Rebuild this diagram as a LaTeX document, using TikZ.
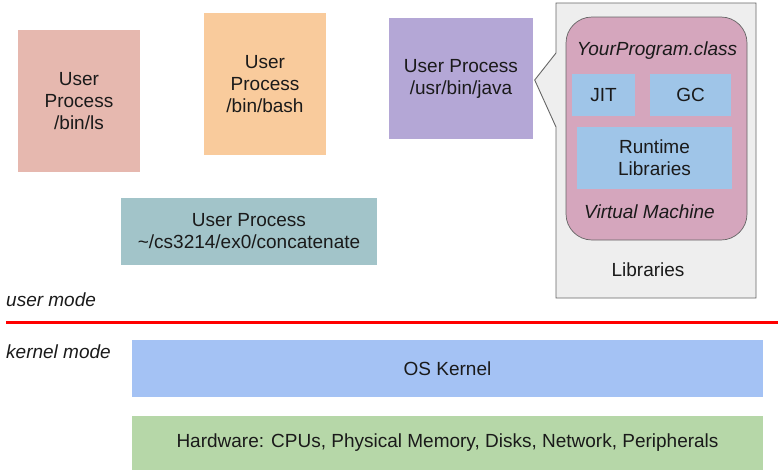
\documentclass[tikz,border=0pt]{standalone}
\usepackage{fontspec}
\setmainfont{Liberation Sans}
\definecolor{lsfill}{HTML}{E6B8AF}
\definecolor{bashfill}{HTML}{F9CB9C}
\definecolor{catfill}{HTML}{A2C4C9}
\definecolor{javafill}{HTML}{B4A7D6}
\definecolor{vmfill}{HTML}{D5A6BD}
\definecolor{partfill}{HTML}{9FC5E8}
\definecolor{libfill}{HTML}{EEEEEE}
\definecolor{osfill}{HTML}{A4C2F4}
\definecolor{hwfill}{HTML}{B6D7A8}
\definecolor{edge}{HTML}{666666}
\definecolor{ink}{HTML}{1A1A1A}
\tikzset{
  txt/.style={text=ink, font=\fontsize{19}{22}\selectfont, align=center},
  blk/.style={txt, inner sep=0pt, draw=none, rectangle},
  itxt/.style={text=ink, font=\fontsize{19}{22}\selectfont\itshape, inner sep=0pt}
}
\begin{document}
\begin{tikzpicture}[x=1pt,y=-1pt]
\useasboundingbox (0,0) rectangle (778,471);

% user processes
\node[blk, fill=lsfill, minimum width=122pt, minimum height=142pt] (ls) at (79,101) {User\\Process\\/bin/ls};
\node[blk, fill=bashfill, minimum width=122pt, minimum height=142pt] (bash) at (265,84) {User\\Process\\/bin/bash};
\node[blk, fill=catfill, minimum width=256pt, minimum height=67pt] (cat) at (249,231.5) {User Process\\\char`\~/cs3214/ex0/concatenate};
\node[blk, fill=javafill, minimum width=144pt, minimum height=121pt] (java) at (461,78.5) {User Process\\/usr/bin/java};

% libraries callout pointing at the java process
\coordinate (tip) at (534.7,80);
\draw[edge, fill=libfill, line width=0.9pt, line join=miter]
  (556,53) -- (556,3) -- (756,3) -- (756,298) -- (556,298) -- (556,127) -- (tip) -- cycle;
\node[txt, inner sep=0pt] (libs) at (648,270) {Libraries};

% virtual machine
\draw[edge, fill=vmfill, line width=0.7pt, rounded corners=26pt] (566,17) rectangle (747,240);
\node[itxt] (cls) at (657,51) {YourProgram.class};
\node[blk, fill=partfill, minimum width=63pt, minimum height=42pt] (jit) at (603.5,95) {JIT};
\node[blk, fill=partfill, minimum width=81pt, minimum height=42pt] (gc) at (690.5,95) {GC};
\node[blk, fill=partfill, minimum width=155pt, minimum height=62pt] (rt) at (654.5,158) {Runtime\\Libraries};
\node[itxt] (vm) at (649.5,212) {Virtual Machine};

% mode boundary
\node[itxt, anchor=west] (um) at (6,300) {user mode};
\coordinate (lineL) at (6,322.5);
\coordinate (lineR) at (778,322.5);
\draw[red, line width=2.2pt] (lineL) -- (lineR);
\node[itxt, anchor=west] (km) at (6,352) {kernel mode};

% kernel and hardware
\node[blk, fill=osfill, minimum width=631pt, minimum height=57pt] (os) at (447.5,368.5) {OS Kernel};
\node[blk, fill=hwfill, minimum width=631pt, minimum height=54pt] (hw) at (447.5,443) {Hardware: CPUs, Physical Memory, Disks, Network, Peripherals};
\end{tikzpicture}
\end{document}
